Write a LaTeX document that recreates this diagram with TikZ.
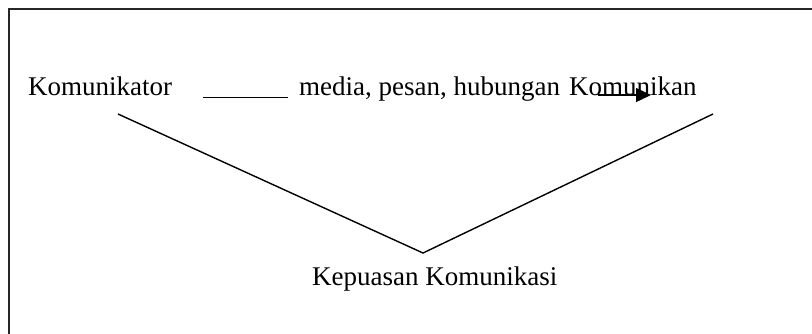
\documentclass[tikz,border=0pt]{standalone}
\usepackage{fontspec}
\setmainfont{Liberation Serif}
\usetikzlibrary{arrows.meta}
\begin{document}
\begin{tikzpicture}[x=1pt,y=-1pt,
  label/.style={anchor=base west,inner sep=0pt,font=\fontsize{27}{32}\selectfont},
  edge/.style={line width=1.4pt},
  frame/.style={line width=2pt,draw=black!85}]
\useasboundingbox (0,0) rectangle (812,333);
% outer frame (runs past the right and bottom edges)
\draw[frame] (9,345) -- (9,9) -- (825,9);

% texts
\node[label] (kom)  at (28,95)  {Komunikator};
\node[label] (mph)  at (299,95) {media, pesan, hubungan};
\node[label] (kan)  at (569,95) {Komunikan};
\node[label] (kep)  at (312,285) {Kepuasan Komunikasi};

% horizontal stroke and arrow
\coordinate (h1) at (203,97.5);
\coordinate (h2) at (288,97.5);
\draw[edge,line width=1.6pt] (h1) -- (h2);
\coordinate (a1) at (598,95);
\coordinate (a2) at (651,95);
\draw[edge,-{Triangle[length=15pt,width=14pt]}] (a1) -- (a2);

% the two legs meeting above the bottom text
\coordinate (l) at (118,114);
\coordinate (v) at (423,253);
\coordinate (r) at (713,114);
\draw[edge] (l) -- (v) -- (r);
\end{tikzpicture}
\end{document}
